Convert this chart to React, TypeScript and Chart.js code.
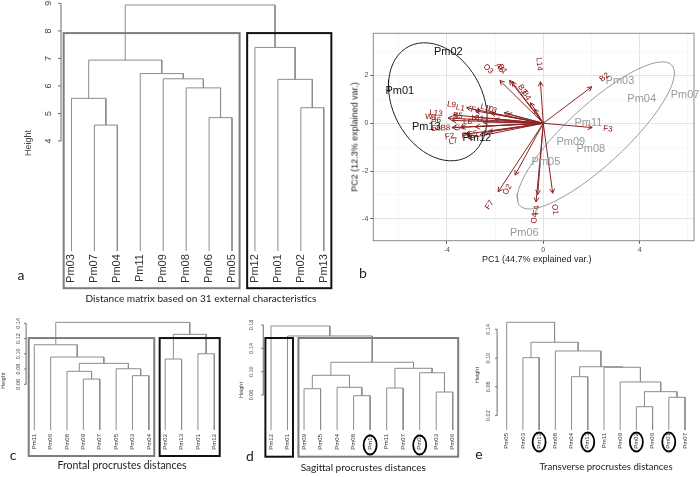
import React, { useEffect, useRef } from 'react';
import { Chart, registerables } from 'chart.js';

Chart.register(...registerables);

const SANS = '"Liberation Sans", Arial, sans-serif';
const CAPTION = 'Lato, "Open Sans", sans-serif';

// ---------- Panel a : external characteristics ----------
const leavesA = ['Pm03', 'Pm07', 'Pm04', 'Pm11', 'Pm09', 'Pm08', 'Pm06', 'Pm05', 'Pm12', 'Pm01', 'Pm02', 'Pm13'];
const mergeLeftA = [-2, -7, -11, -1, -6, -10, -5, -4, 4, -9, 9];
const mergeRightA = [-3, -8, -12, 1, 2, 3, 5, 7, 8, 6, 10];
const mergeHeightA = [4.58, 4.85, 5.21, 5.55, 5.93, 6.24, 6.26, 6.45, 6.94, 7.40, 8.94];
const clusterA = ['G', 'G', 'G', 'G', 'G', 'G', 'G', 'G', 'K', 'K', 'K', 'K'];
const yTicksA = [4, 5, 6, 7, 8, 9];

// ---------- Panel c : frontal ----------
const leavesC = ['Pm11', 'Pm06', 'Pm08', 'Pm09', 'Pm07', 'Pm05', 'Pm03', 'Pm04', 'Pm02', 'Pm13', 'Pm01', 'Pm12'];
const mergeLeftC = [-4, -7, -3, -6, 3, -9, -2, -11, -1, 6, 9];
const mergeRightC = [-5, -8, 1, 2, 4, -10, 5, -12, 7, 8, 10];
const mergeHeightC = [0.0669, 0.0713, 0.0770, 0.0804, 0.0875, 0.0932, 0.0958, 0.1001, 0.1119, 0.1256, 0.1413];
const clusterC = ['G', 'G', 'G', 'G', 'G', 'G', 'G', 'G', 'K', 'K', 'K', 'K'];
const yTicksC = [0.06, 0.08, 0.10, 0.12, 0.14];

// ---------- Panel d : sagittal ----------
const leavesD = ['Pm12', 'Pm01', 'Pm09', 'Pm05', 'Pm04', 'Pm08', 'Pm13', 'Pm11', 'Pm07', 'Pm02', 'Pm03', 'Pm06'];
const mergeLeftD = [-6, -11, -3, -8, -5, 3, -10, 4, 6, -2, -1];
const mergeRightD = [-7, -12, -4, -9, 1, 5, 2, 7, 8, 9, 10];
const mergeHeightD = [0.0588, 0.0651, 0.0708, 0.0720, 0.0732, 0.0938, 0.0982, 0.1058, 0.1161, 0.1612, 0.1783];
const clusterD = ['K', 'K', 'G', 'G', 'G', 'G', 'G', 'G', 'G', 'G', 'G', 'G'];
const ringsD = ['Pm13', 'Pm02'];
const yTicksD = [0.06, 0.10, 0.14, 0.18];

// ---------- Panel e : transverse ----------
const leavesE = ['Pm05', 'Pm03', 'Pm12', 'Pm08', 'Pm04', 'Pm13', 'Pm11', 'Pm09', 'Pm02', 'Pm06', 'Pm01', 'Pm07'];
const mergeLeftE = [-9, -11, 1, -8, -5, -7, 5, -2, -4, 8, -1];
const mergeRightE = [-10, -12, 2, 3, -6, 4, 6, -3, 7, 9, 10];
const mergeHeightE = [0.0324, 0.0455, 0.0533, 0.0668, 0.0741, 0.0872, 0.0880, 0.1006, 0.1099, 0.1220, 0.1498];
const ringsE = ['Pm12', 'Pm13', 'Pm02', 'Pm01'];
const yTicksE = [0.02, 0.06, 0.10, 0.14];

// ---------- Panel b : PCA biplot ----------
const pcaNames = ['Pm01', 'Pm02', 'Pm12', 'Pm13', 'Pm03', 'Pm04', 'Pm05', 'Pm06', 'Pm07', 'Pm08', 'Pm09', 'Pm11'];
const pc1Scores = [-5.95, -3.94, -2.76, -4.85, 3.18, 4.08, 0.11, -0.79, 5.88, 1.97, 1.14, 1.87];
const pc2Scores = [1.37, 3.00, -0.63, -0.14, 1.79, 1.02, -1.61, -4.61, 1.19, -1.09, -0.77, 0.00];
const pcaGroups = [1, 1, 1, 1, 2, 2, 2, 2, 2, 2, 2, 2];

const varNames = ['L14', 'B2', 'F3', 'O1', 'F4', 'O4', 'O2', 'F7', 'O3', 'A6', 'B1', 'B3', 'B4',
  'L9', 'L1', 'F1', 'L10', 'W1', 'L13', 'B6', 'B5', 'B8', 'E8', 'S4', 'F2', 'L7', 'F6', 'F5', 'L3', 'L6', 'L11'];
const varPC1 = [-0.12, 2.01, 2.03, 0.39, -0.23, -0.30, -1.17, -1.87, -1.80, -1.40, -1.30, -0.53, -0.36,
  -3.18, -2.81, -2.17, -1.63, -3.95, -3.72, -3.79, -2.89, -3.40, -3.79, -2.82, -3.24, -3.11, -2.55, -2.27, -1.49, -2.50, -2.00];
const varPC2 = [1.74, 1.53, -0.18, -2.93, -2.98, -3.30, -2.17, -2.87, 1.79, 1.80, 1.74, 0.86, 0.60,
  0.65, 0.52, 0.42, 0.44, 0.22, 0.35, 0.12, 0.26, -0.17, -0.18, -0.15, -0.46, -0.63, -0.41, -0.35, 0.39, 0.05, 0.15];

const pcXTicks = [-6, -4, -2, 0, 2, 4, 6];
const pcYTicks = [-4, -3, -2, -1, 0, 1, 2, 3];

// ---------- helpers ----------
function dendroSegments(left: number[], right: number[], heights: number[]) {
  const xs: number[] = [];
  const hs: number[] = [];
  const nx = (id: number) => (id < 0 ? -id : xs[id - 1]);
  const nh = (id: number) => (id < 0 ? 0 : hs[id - 1]);
  const pts: any[] = [];
  for (let i = 0; i < left.length; i++) {
    const xl = nx(left[i]);
    const xr = nx(right[i]);
    const h = heights[i];
    pts.push({ x: xl, y: nh(left[i]) }, { x: xl, y: h }, { x: xr, y: h }, { x: xr, y: nh(right[i]) }, { x: null, y: null });
    xs.push((xl + xr) / 2);
    hs.push(h);
  }
  return pts;
}

function makeDendro(canvas: HTMLCanvasElement, cfg: any) {
  const n = cfg.leaves.length;
  const plugin = {
    id: 'dendroDeco',
    afterDraw(chart: any) {
      const { ctx, chartArea } = chart;
      const xs = chart.scales.x;
      const ys = chart.scales.y;
      ctx.save();
      // R-style y axis
      const ax = chartArea.left + cfg.axisDx;
      const py = cfg.yTicks.map((v: number) => ys.getPixelForValue(v));
      ctx.strokeStyle = '#6a6a6a';
      ctx.lineWidth = 1;
      ctx.beginPath();
      ctx.moveTo(ax, Math.min(...py));
      ctx.lineTo(ax, Math.max(...py));
      py.forEach((p: number) => {
        ctx.moveTo(ax, p);
        ctx.lineTo(ax - cfg.tickLen, p);
      });
      ctx.stroke();
      ctx.fillStyle = '#444';
      ctx.textAlign = 'center';
      ctx.textBaseline = 'middle';
      ctx.font = `${cfg.tickFont}px ${SANS}`;
      cfg.yTicks.forEach((v: number, i: number) => {
        ctx.save();
        ctx.translate(ax - cfg.tickLabelOffset, py[i]);
        ctx.rotate(-Math.PI / 2);
        ctx.fillText(v.toFixed(cfg.decimals), 0, 0);
        ctx.restore();
      });
      ctx.font = `${cfg.titleSize}px ${SANS}`;
      ctx.save();
      ctx.translate(ax - cfg.titleOffset, cfg.titleY);
      ctx.rotate(-Math.PI / 2);
      ctx.fillText('Height', 0, 0);
      ctx.restore();
      // cluster boxes
      if (cfg.clusters) {
        let start = 0;
        for (let i = 1; i <= n; i++) {
          if (i === n || cfg.clusters[i] !== cfg.clusters[start]) {
            const x0 = xs.getPixelForValue(start + 1 - 0.34);
            const x1 = xs.getPixelForValue(i + 0.33);
            const y0 = ys.getPixelForValue(cfg.boxTop);
            const y1 = chartArea.bottom + cfg.boxBottomExtra;
            ctx.strokeStyle = cfg.clusters[start] === 'K' ? '#111' : '#7d7d7d';
            ctx.lineWidth = 2;
            ctx.strokeRect(x0, y0, x1 - x0, y1 - y0);
            start = i;
          }
        }
      }
      // rings around highlighted labels
      if (cfg.rings) {
        ctx.strokeStyle = '#000';
        ctx.lineWidth = 1.8;
        cfg.rings.forEach((name: string) => {
          const idx = cfg.leaves.indexOf(name);
          const cx = xs.getPixelForValue(idx + 1);
          ctx.beginPath();
          ctx.ellipse(cx, chartArea.bottom + cfg.ringOffset, 6.5, 9.5, 0, 0, Math.PI * 2);
          ctx.stroke();
        });
      }
      ctx.restore();
    },
  };
  return new Chart(canvas, {
    type: 'scatter',
    data: {
      datasets: [
        {
          data: dendroSegments(cfg.left, cfg.right, cfg.heights),
          showLine: true,
          spanGaps: false,
          borderColor: '#8c8c8c',
          borderWidth: 1,
          pointRadius: 0,
        },
      ],
    },
    options: {
      animation: false,
      responsive: false,
      events: [],
      layout: { padding: cfg.pad },
      plugins: { legend: { display: false }, tooltip: { enabled: false } },
      scales: {
        x: {
          type: 'linear',
          position: 'bottom',
          min: 0.5,
          max: n + 0.5,
          afterBuildTicks: (s: any) => {
            s.ticks = cfg.leaves.map((_: string, i: number) => ({ value: i + 1 }));
          },
          afterFit: (s: any) => {
            s.height = cfg.axisH;
          },
          grid: { display: false, drawTicks: false },
          border: { display: false },
          ticks: {
            autoSkip: false,
            minRotation: 90,
            maxRotation: 90,
            padding: cfg.labelPad,
            color: '#333',
            font: { size: cfg.labelSize, family: SANS },
            callback: (v: any) => cfg.leaves[Math.round(v) - 1] ?? '',
          },
        },
        y: { type: 'linear', display: false, min: 0, max: cfg.yMax },
      },
    },
    plugins: [plugin],
  } as any);
}

function ellipsePoints(group: number) {
  const xs = pc1Scores.filter((_, i) => pcaGroups[i] === group);
  const ys = pc2Scores.filter((_, i) => pcaGroups[i] === group);
  const n = xs.length;
  const mx = xs.reduce((a, b) => a + b, 0) / n;
  const my = ys.reduce((a, b) => a + b, 0) / n;
  let sxx = 0, syy = 0, sxy = 0;
  for (let i = 0; i < n; i++) {
    sxx += (xs[i] - mx) ** 2;
    syy += (ys[i] - my) ** 2;
    sxy += (xs[i] - mx) * (ys[i] - my);
  }
  sxx /= n - 1; syy /= n - 1; sxy /= n - 1;
  const a = Math.sqrt(sxx);
  const b = sxy / a;
  const c = Math.sqrt(syy - b * b);
  const ed = Math.sqrt(-2 * Math.log(1 - 0.68));
  const pts = [];
  for (let k = 0; k < 60; k++) {
    const t = -Math.PI + (2 * Math.PI * k) / 59;
    pts.push({ x: mx + ed * Math.cos(t) * a, y: my + ed * (Math.cos(t) * b + Math.sin(t) * c) });
  }
  return pts;
}

function makeBiplot(canvas: HTMLCanvasElement) {
  const arrowPts: any[] = [];
  varNames.forEach((_, i) => {
    arrowPts.push({ x: 0, y: 0 }, { x: varPC1[i], y: varPC2[i] }, { x: null, y: null });
  });
  const plugin = {
    id: 'biplotDeco',
    afterDatasetsDraw(chart: any) {
      const { ctx } = chart;
      const xs = chart.scales.x;
      const ys = chart.scales.y;
      const ox = xs.getPixelForValue(0);
      const oy = ys.getPixelForValue(0);
      ctx.save();
      // arrow heads
      ctx.strokeStyle = '#8b2525';
      ctx.lineWidth = 1;
      varNames.forEach((_, i) => {
        const tx = xs.getPixelForValue(varPC1[i]);
        const ty = ys.getPixelForValue(varPC2[i]);
        const a = Math.atan2(ty - oy, tx - ox);
        ctx.beginPath();
        ctx.moveTo(tx - 5 * Math.cos(a - 0.5), ty - 5 * Math.sin(a - 0.5));
        ctx.lineTo(tx, ty);
        ctx.lineTo(tx - 5 * Math.cos(a + 0.5), ty - 5 * Math.sin(a + 0.5));
        ctx.stroke();
      });
      // sample labels
      const meta = chart.getDatasetMeta(1);
      ctx.font = `11px ${SANS}`;
      ctx.textAlign = 'center';
      ctx.textBaseline = 'middle';
      meta.data.forEach((el: any, i: number) => {
        ctx.fillStyle = pcaGroups[i] === 1 ? '#111' : '#999';
        ctx.fillText(pcaNames[i], el.x, el.y);
      });
      // variable labels
      ctx.font = `8px ${SANS}`;
      ctx.fillStyle = '#8b0000';
      varNames.forEach((name, i) => {
        const tx = xs.getPixelForValue(varPC1[i]);
        const ty = ys.getPixelForValue(varPC2[i]);
        const dx = tx - ox;
        const dy = ty - oy;
        const L = Math.hypot(dx, dy);
        const w = ctx.measureText(name).width;
        const off = w / 2 + 11;
        ctx.save();
        ctx.translate(tx + (dx / L) * off, ty + (dy / L) * off);
        ctx.rotate(Math.atan(dy / dx));
        ctx.fillText(name, 0, 0);
        ctx.restore();
      });
      ctx.restore();
    },
    afterDraw(chart: any) {
      const { ctx, chartArea } = chart;
      ctx.save();
      ctx.strokeStyle = '#8a8a8a';
      ctx.lineWidth = 1;
      ctx.strokeRect(chartArea.left, chartArea.top, chartArea.right - chartArea.left, chartArea.bottom - chartArea.top);
      ctx.restore();
    },
  };
  const gridColor = (major: boolean) => (major ? '#e3e3e3' : '#f2f2f2');
  return new Chart(canvas, {
    type: 'scatter',
    data: {
      datasets: [
        { data: arrowPts, showLine: true, spanGaps: false, borderColor: '#8b2525', borderWidth: 1, pointRadius: 0 },
        { data: pcaNames.map((_, i) => ({ x: pc1Scores[i], y: pc2Scores[i] })), pointRadius: 0, showLine: false },
        { data: ellipsePoints(1), showLine: true, borderColor: '#222', borderWidth: 1, pointRadius: 0 },
        { data: ellipsePoints(2), showLine: true, borderColor: '#9a9a9a', borderWidth: 1, pointRadius: 0 },
      ],
    },
    options: {
      animation: false,
      responsive: false,
      events: [],
      layout: { padding: { left: 0, right: 6, top: 33.3, bottom: 0 } },
      plugins: { legend: { display: false }, tooltip: { enabled: false } },
      scales: {
        x: {
          type: 'linear',
          min: -7.05,
          max: 6.25,
          afterBuildTicks: (s: any) => {
            s.ticks = pcXTicks.map((v) => ({ value: v }));
          },
          afterFit: (s: any) => {
            s.height = 49.3;
          },
          border: { display: false },
          grid: {
            color: (c: any) => gridColor(c.tick && c.tick.value % 4 === 0),
            lineWidth: (c: any) => (c.tick && c.tick.value % 4 === 0 ? 1 : 0.6),
            tickColor: (c: any) => (c.tick && c.tick.value % 4 === 0 ? '#555' : 'rgba(0,0,0,0)'),
            tickLength: 3,
          },
          ticks: {
            autoSkip: false,
            maxRotation: 0,
            padding: 2,
            color: '#4d4d4d',
            font: { size: 7, family: SANS },
            callback: (v: any) => (v % 4 === 0 ? String(v) : ''),
          },
        },
        y: {
          type: 'linear',
          min: -4.92,
          max: 3.77,
          afterBuildTicks: (s: any) => {
            s.ticks = pcYTicks.map((v) => ({ value: v }));
          },
          afterFit: (s: any) => {
            s.width = 33.3;
          },
          border: { display: false },
          grid: {
            color: (c: any) => gridColor(c.tick && c.tick.value % 2 === 0),
            lineWidth: (c: any) => (c.tick && c.tick.value % 2 === 0 ? 1 : 0.6),
            tickColor: (c: any) => (c.tick && c.tick.value % 2 === 0 ? '#555' : 'rgba(0,0,0,0)'),
            tickLength: 3,
          },
          ticks: {
            autoSkip: false,
            padding: 2,
            color: '#4d4d4d',
            font: { size: 7, family: SANS },
            callback: (v: any) => (v % 2 === 0 ? String(v) : ''),
          },
        },
      },
    },
    plugins: [plugin],
  } as any);
}

const cfgA = {
  leaves: leavesA, left: mergeLeftA, right: mergeRightA, heights: mergeHeightA, clusters: clusterA,
  yMax: 9.085, yTicks: yTicksA, decimals: 0,
  pad: { left: 60, right: 0.7, top: 1, bottom: 8.8 }, axisH: 40, labelSize: 11, labelPad: 3,
  axisDx: 1, tickLen: 3, tickFont: 9, tickLabelOffset: 12, titleSize: 9, titleOffset: 32, titleY: 143,
  boxTop: 7.92, boxBottomExtra: 37,
};
const cfgC = {
  leaves: leavesC, left: mergeLeftC, right: mergeRightC, heights: mergeHeightC, clusters: clusterC,
  yMax: 0.1549, yTicks: yTicksC, decimals: 2,
  pad: { left: 26.1, right: 12.5, top: 2, bottom: 17 }, axisH: 30, labelSize: 6, labelPad: 4,
  axisDx: 0, tickLen: 2, tickFont: 5.5, tickLabelOffset: 8, titleSize: 5.5, titleOffset: 22.7, titleY: 70.7,
  boxTop: 0.1207, boxBottomExtra: 26,
};
const cfgD = {
  leaves: leavesD, left: mergeLeftD, right: mergeRightD, heights: mergeHeightD, clusters: clusterD, rings: ringsD, ringOffset: 15,
  yMax: 0.2023, yTicks: yTicksD, decimals: 2,
  pad: { left: 27.75, right: 4, top: 2, bottom: 17 }, axisH: 30, labelSize: 6, labelPad: 4,
  axisDx: 0.5, tickLen: 2, tickFont: 5.5, tickLabelOffset: 11.3, titleSize: 5.5, titleOffset: 22, titleY: 80,
  boxTop: 0.1577, boxBottomExtra: 26.7,
};
const cfgE = {
  leaves: leavesE, left: mergeLeftE, right: mergeRightE, heights: mergeHeightE, rings: ringsE, ringOffset: 12,
  yMax: 0.1641, yTicks: yTicksE, decimals: 2,
  pad: { left: 33.6, right: 6.9, top: 2, bottom: 17 }, axisH: 30, labelSize: 6, labelPad: 3,
  axisDx: -1.5, tickLen: 2, tickFont: 5.5, tickLabelOffset: 8.5, titleSize: 5.5, titleOffset: 20, titleY: 65,
};

function Txt(p: { x: number; y: number; size: number; text: string; family?: string; rotate?: number; color?: string }) {
  return (
    <div
      style={{
        position: 'absolute',
        left: p.x,
        top: p.y,
        transform: `translate(-50%, -50%) rotate(${p.rotate || 0}deg)`,
        fontSize: p.size,
        fontFamily: p.family || CAPTION,
        color: p.color || '#222',
        whiteSpace: 'nowrap',
        lineHeight: 1,
      }}
    >
      {p.text}
    </div>
  );
}

export default function App() {
  const refA = useRef<HTMLCanvasElement>(null);
  const refB = useRef<HTMLCanvasElement>(null);
  const refC = useRef<HTMLCanvasElement>(null);
  const refD = useRef<HTMLCanvasElement>(null);
  const refE = useRef<HTMLCanvasElement>(null);

  useEffect(() => {
    const charts = [
      makeDendro(refA.current!, cfgA),
      makeBiplot(refB.current!),
      makeDendro(refC.current!, cfgC),
      makeDendro(refD.current!, cfgD),
      makeDendro(refE.current!, cfgE),
    ];
    return () => charts.forEach((c) => c.destroy());
  }, []);

  const cv = (l: number, t: number): React.CSSProperties => ({ position: 'absolute', left: l, top: t });

  return (
    <div style={{ position: 'absolute', left: 0, top: 0, width: 700, height: 477, background: '#fff', overflow: 'hidden' }}>
      <canvas ref={refA} width={340} height={300} style={cv(0, 0)} />
      <canvas ref={refB} width={360} height={290} style={cv(340, 0)} />
      <canvas ref={refC} width={235} height={167} style={cv(0, 310)} />
      <canvas ref={refD} width={230} height={167} style={cv(235, 310)} />
      <canvas ref={refE} width={235} height={167} style={cv(465, 310)} />

      <Txt x={21} y={275} size={14} text="a" />
      <Txt x={201} y={298} size={10.1} text="Distance matrix based on 31 external characteristics" />
      <Txt x={363} y={273} size={14} text="b" />
      <Txt x={536.7} y={259} size={9} family={SANS} text="PC1 (44.7% explained var.)" />
      <Txt x={355} y={137} size={9} family={SANS} rotate={-90} text="PC2 (12.3% explained var.)" />
      <Txt x={13} y={455} size={14} text="c" />
      <Txt x={122} y={465} size={10.5} text="Frontal procrustes distances" />
      <Txt x={250} y={456} size={14} text="d" />
      <Txt x={363.3} y={466.7} size={10.1} text="Sagittal procrustes distances" />
      <Txt x={479} y={454} size={14} text="e" />
      <Txt x={606} y={466.7} size={9.6} text="Transverse procrustes distances" />
    </div>
  );
}
